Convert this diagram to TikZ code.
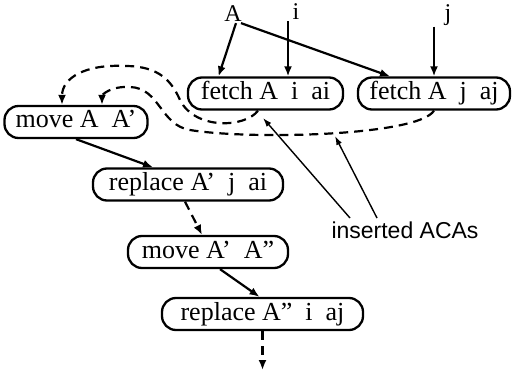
\documentclass[tikz,border=0pt]{standalone}
\usepackage{fontspec}
\setmainfont{Liberation Serif}
\setsansfont{Liberation Sans}
\usetikzlibrary{arrows.meta}

\begin{document}
\begin{tikzpicture}[
        x=1pt, y=-1pt,
        aca/.style={draw,line width=2.3pt,rounded corners=14pt,minimum height=32pt,inner sep=0pt,text height=18pt,text depth=6pt,font=\fontsize{26}{30}\selectfont},
        tag/.style={inner sep=1pt,font=\fontsize{24}{28}\selectfont},
        flow/.style={line width=2.2pt,-{Latex[length=10pt,width=8pt]}},
        inserted/.style={flow,dash pattern=on 9pt off 6pt},
        hint/.style={line width=1.4pt,-{Latex[length=9pt,width=6pt]}}
    ]
        \useasboundingbox (0,0) rectangle (513,374);

        % Define the nodes
        \node[aca,minimum width=155pt] (fetchI) at (265.5,93.5) {fetch A~~i~~ai};
        \node[aca,minimum width=152pt] (fetchJ) at (434,93.5) {fetch A~~j~~aj};
        \node[aca,minimum width=143pt] (moveA) at (76,122) {move A~~A'};
        \node[aca,minimum width=190pt] (replaceJ) at (188,184.5) {replace A'~~j~~ai};
        \node[aca,minimum width=160pt] (moveB) at (208,252) {move A'~~A''};
        \node[aca,minimum width=201pt] (replaceI) at (262.5,314) {replace A''~~i~~aj};

        \node[tag] (tA) at (233,14) {A};
        \node[tag] (ti) at (296,12) {i};
        \node[tag] (tj) at (448,15) {j};
        \node[font=\sffamily\fontsize{23}{27}\selectfont] (note) at (405,230) {inserted ACAs};

        \coordinate (next) at (262.5,370);
        \coordinate (hitI) at (263,118);
        \coordinate (hitJ) at (335,136);

        % Operands feeding the fetches
        \draw[flow] ([xshift=3pt]tA.south) -- ([xshift=-47pt]fetchI.north);
        \draw[flow] ([xshift=8pt]tA.south) -- ([xshift=-44pt]fetchJ.north);
        \draw[flow] ([xshift=-8pt]ti.south) -- ([xshift=-8pt]ti.south |- fetchI.north);
        \draw[flow] ([xshift=-14pt]tj.south) -- ([xshift=-14pt]tj.south |- fetchJ.north);

        % The chain
        \draw[flow] (moveA.south) -- ([xshift=-35pt]replaceJ.north);
        \draw[inserted] ([xshift=-3pt]replaceJ.south) -- ([xshift=-6pt]moveB.north);
        \draw[flow] ([xshift=12pt]moveB.south) -- ([xshift=-3pt]replaceI.north);
        \draw[inserted] (replaceI.south) -- (next);

        % Dependences through the inserted ACAs
        \draw[inserted] ([xshift=-7.5pt]fetchI.south)
            .. controls (245,128) and (195,130) .. (180,100)
            .. controls (172,82) and (160,66) .. (125,66)
            .. controls (85,64) and (62,78) .. ([xshift=-14pt]moveA.north);
        \draw[inserted] (fetchJ.south)
            .. controls (418,136) and (250,140) .. (190,130)
            .. controls (160,125) and (160,88) .. (130,87)
            .. controls (110,86) and (102,95) .. ([xshift=26pt]moveA.north);

        % Pointers from the note
        \draw[hint] ([xshift=-55pt]note.north) -- (hitI);
        \draw[hint] ([xshift=-28pt]note.north) -- (hitJ);
    \end{tikzpicture}
\end{document}
